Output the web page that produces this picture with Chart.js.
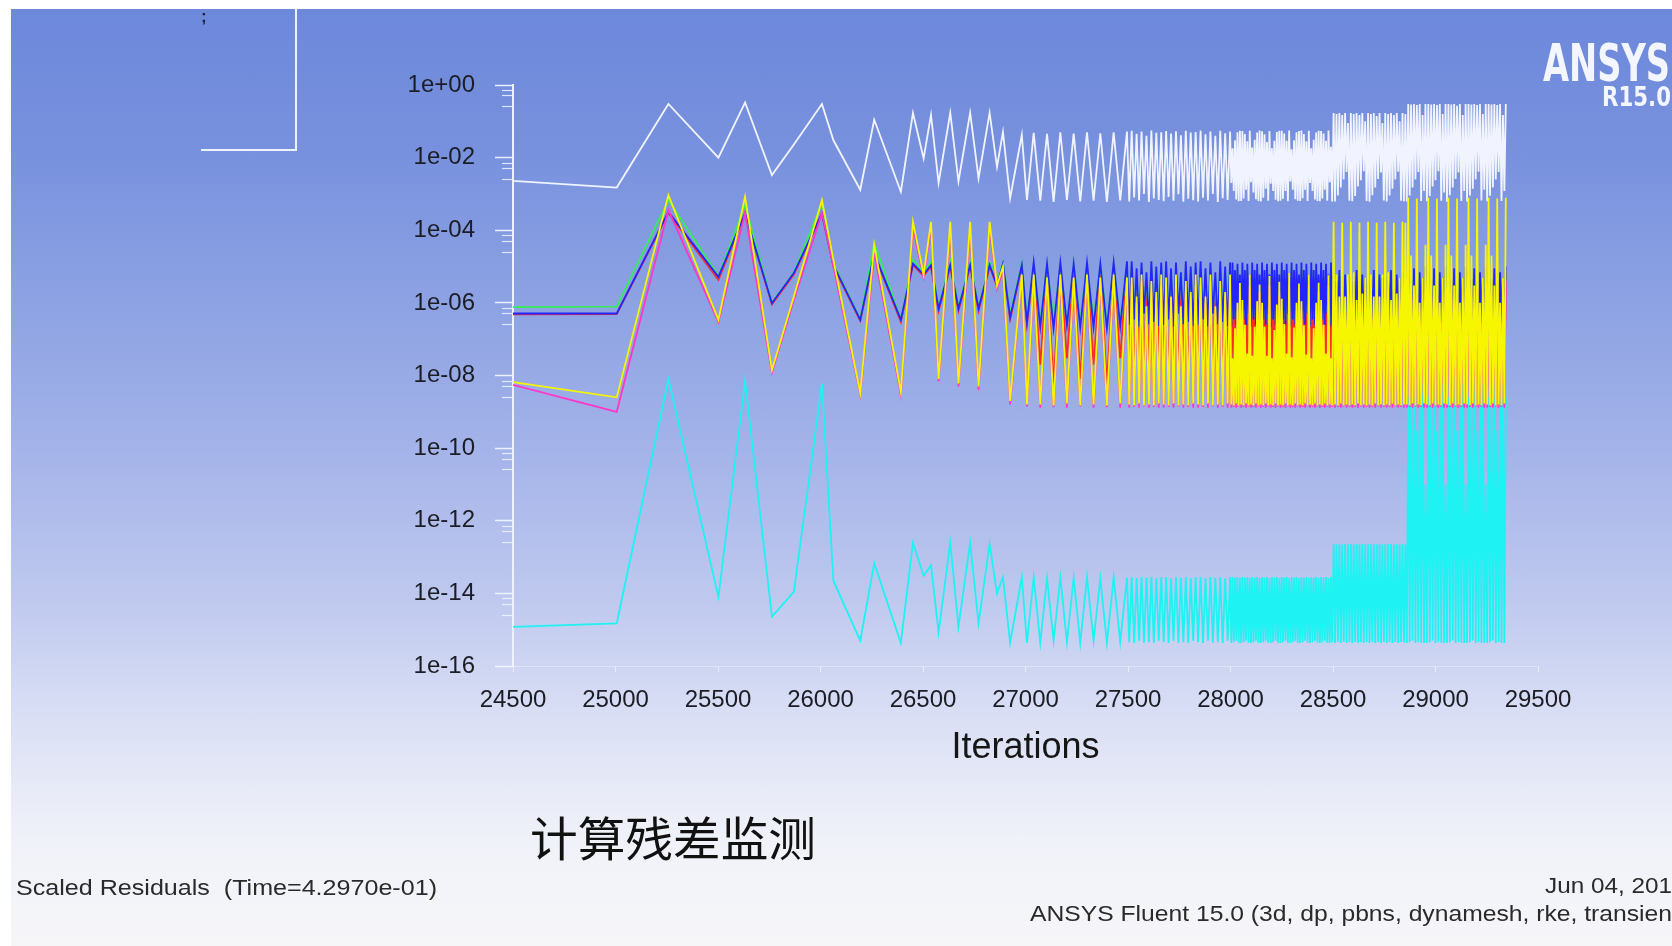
<!DOCTYPE html>
<html>
<head>
<meta charset="utf-8">
<title>Scaled Residuals</title>
<script src="https://cdn.jsdelivr.net/npm/chart.js@4.4.1/dist/chart.umd.min.js"></script>
<style>
  html, body { margin: 0; padding: 0; }
  body { width: 1672px; height: 946px; overflow: hidden; position: relative; background: #ffffff; }
  #backdrop {
    position: absolute; left: 0; top: 0; width: 1672px; height: 946px;
    background: linear-gradient(to bottom,
      #6c88db 0px, #7891de 150px, #8ca2e3 300px, #a4b3e9 450px,
      #bfc9ef 600px, #d6dcf4 700px, #e7eaf7 790px, #f0f2f9 840px, #f6f6f9 946px);
  }
  #residuals { position: absolute; left: 0; top: 0; }
  .frame { position: absolute; background: #ffffff; }
  .rule { position: absolute; background: #eef2ff; }
  .txt { position: absolute; white-space: nowrap; line-height: 1; transform-origin: 0 0; }
  .foot { font-family: 'Liberation Sans', Arial, sans-serif; font-size: 22px; color: #2a2a2a; }
  .logo { font-family: 'DejaVu Sans Condensed', 'Liberation Sans Narrow', sans-serif; font-weight: bold; color: #f3f5ff; }
</style>
</head>
<body>
<div id="backdrop"></div>
<canvas id="residuals" width="1672" height="946"></canvas>

<div class="frame" style="left:0;top:0;width:1672px;height:9px;"></div>
<div class="frame" style="left:0;top:0;width:11px;height:946px;"></div>

<!-- clipped legend box corner -->
<div class="rule" style="left:295px;top:9px;width:2px;height:142px;"></div>
<div class="rule" style="left:201px;top:149px;width:96px;height:2px;"></div>
<div class="txt" style="left:201px;top:7px;font:bold 17px 'Liberation Sans',sans-serif;color:#1d2136;">;</div>

<div id="logoMain" class="txt logo" style="left:1543px;top:38px;font-size:51px;">ANSYS</div>
<div id="logoRel" class="txt logo" style="left:1602px;top:83px;font-size:27px;font-weight:600;">R15.0</div>

<div id="caption" class="txt" style="left:530px;top:812px;font-family:'Noto Sans CJK SC',sans-serif;font-size:47px;color:#111111;">计算残差监测</div>
<div id="plotName" class="txt foot" style="left:16px;top:877px;">Scaled Residuals&nbsp;&nbsp;(Time=4.2970e-01)</div>
<div id="plotDate" class="txt foot" style="left:1545px;top:875px;">Jun 04, 2015</div>
<div id="plotSolver" class="txt foot" style="left:1030px;top:903px;">ANSYS Fluent 15.0 (3d, dp, pbns, dynamesh, rke, transient)</div>

<script>
// ---- residual history (iteration, scaled residual) ----
const iterations = [
  // 24500 - 27000
  24500, 25006, 25258, 25502, 25632, 25763, 25870, 26007, 26063, 26194, 26262, 26392, 26451,
  26503, 26539, 26576, 26633, 26673, 26730, 26771, 26825, 26861, 26890, 26925, 26982, 27007,
  // 27000 - 27500
  27040, 27072, 27105, 27137, 27170, 27202, 27235, 27267, 27300, 27332, 27365, 27397, 27430, 27462, 27495,
  // 27500 - 28000
  27506, 27518, 27530, 27542, 27554, 27566, 27578, 27590, 27602, 27614, 27626, 27638, 27650, 27662,
  27674, 27686, 27698, 27710, 27722, 27734, 27746, 27758, 27770, 27782, 27794, 27806, 27818, 27830,
  27842, 27854, 27866, 27878, 27890, 27902, 27914, 27926, 27938, 27950, 27962, 27974, 27986, 27998,
  // 28000 - 28500
  28004, 28010, 28016, 28022, 28028, 28034, 28040, 28046, 28052, 28058,
  28064, 28070, 28076, 28082, 28088, 28094, 28100, 28106, 28112, 28118,
  28124, 28130, 28136, 28142, 28148, 28154, 28160, 28166, 28172, 28178,
  28184, 28190, 28196, 28202, 28208, 28214, 28220, 28226, 28232, 28238,
  28244, 28250, 28256, 28262, 28268, 28274, 28280, 28286, 28292, 28298,
  28304, 28310, 28316, 28322, 28328, 28334, 28340, 28346, 28352, 28358,
  28364, 28370, 28376, 28382, 28388, 28394, 28400, 28406, 28412, 28418,
  28424, 28430, 28436, 28442, 28448, 28454, 28460, 28466, 28472, 28478,
  28484, 28490, 28496,
  // 28500 - 28860
  28503, 28510, 28517, 28524, 28531, 28538, 28545, 28552, 28559, 28566,
  28573, 28580, 28587, 28594, 28601, 28608, 28615, 28622, 28629, 28636,
  28643, 28650, 28657, 28664, 28671, 28678, 28685, 28692, 28699, 28706,
  28713, 28720, 28727, 28734, 28741, 28748, 28755, 28762, 28769, 28776,
  28783, 28790, 28797, 28804, 28811, 28818, 28825, 28832, 28839, 28846,
  28853,
  // 28860 - end
  28860, 28867, 28874, 28881, 28888, 28895, 28902, 28909, 28916, 28923,
  28930, 28937, 28944, 28951, 28958, 28965, 28972, 28979, 28986, 28993,
  29000, 29007, 29014, 29021, 29028, 29035, 29042, 29049, 29056, 29063,
  29070, 29077, 29084, 29091, 29098, 29105, 29112, 29119, 29126, 29133,
  29140, 29147, 29154, 29161, 29168, 29175, 29182, 29189, 29196, 29203,
  29210, 29217, 29224, 29231, 29238, 29245, 29252, 29259, 29266, 29273,
  29280, 29287, 29294, 29301, 29308, 29315, 29322, 29329, 29336, 29343
];

const continuity = [
  2.3e-3, 1.5e-3, 0.30, 1.0e-2, 0.33, 3.3e-3, 2.3e-2, 0.30, 3.0e-2, 1.3e-3, 0.11, 1.15e-3, 0.17,
  9.5e-3, 0.15, 2.0e-3, 0.17, 2.2e-3, 0.17, 2.7e-3, 0.17, 5.6e-3, 0.051, 7.6e-4, 0.042, 6.8e-4,
  0.048, 6.5e-4, 0.045, 6.0e-4, 0.050, 6.8e-4, 0.046, 6.2e-4, 0.050, 6.5e-4, 0.047, 6.0e-4, 0.050, 6.6e-4, 0.052,
  6.2e-4, 0.055, 8.0e-4, 0.045, 6.6e-4, 0.052, 1.0e-3, 0.040, 6.0e-4, 0.056, 7.5e-4, 0.048, 6.8e-4, 0.050,
  6.3e-4, 0.054, 8.2e-4, 0.046, 6.5e-4, 0.053, 9.8e-4, 0.041, 6.1e-4, 0.055, 7.4e-4, 0.049, 6.7e-4, 0.051,
  6.2e-4, 0.056, 7.9e-4, 0.044, 6.6e-4, 0.052, 1.0e-3, 0.040, 6.0e-4, 0.055, 7.6e-4, 0.047, 6.8e-4, 0.052,
  2.0e-3, 0.018, 1.2e-3, 0.030, 7.0e-4, 0.050, 6.3e-4, 0.055, 6.4e-4, 0.054, 7.5e-4, 0.045, 1.3e-3, 0.028, 6.4e-4, 0.055,
  2.1e-3, 0.019, 1.1e-3, 0.031, 7.2e-4, 0.049, 6.4e-4, 0.056, 6.2e-4, 0.053, 7.8e-4, 0.044, 1.4e-3, 0.027, 6.5e-4, 0.054,
  1.9e-3, 0.018, 1.2e-3, 0.029, 6.9e-4, 0.051, 6.3e-4, 0.055, 6.5e-4, 0.055, 7.4e-4, 0.046, 1.2e-3, 0.029, 6.3e-4, 0.056,
  2.2e-3, 0.017, 1.3e-3, 0.030, 7.1e-4, 0.050, 6.5e-4, 0.054, 6.4e-4, 0.056, 7.6e-4, 0.045, 1.3e-3, 0.028, 6.4e-4, 0.055,
  2.0e-3, 0.018, 1.2e-3, 0.031, 7.0e-4, 0.049, 6.4e-4, 0.055, 6.3e-4, 0.054, 7.5e-4, 0.046, 1.3e-3, 0.029, 6.5e-4, 0.056,
  2.1e-3, 0.020, 6.2e-4,
  0.17, 6.2e-4, 0.16, 9.0e-4, 0.17, 1.5e-3, 0.15, 2.5e-3, 0.17, 4.0e-3, 0.09, 6.5e-4,
  0.17, 6.3e-4, 0.16, 8.8e-4, 0.17, 1.6e-3, 0.15, 2.4e-3, 0.17, 4.2e-3, 0.10, 6.4e-4,
  0.17, 6.1e-4, 0.16, 9.2e-4, 0.17, 1.5e-3, 0.14, 2.6e-3, 0.17, 3.9e-3, 0.09, 6.6e-4,
  0.17, 6.2e-4, 0.16, 9.0e-4, 0.17, 1.4e-3, 0.15, 2.5e-3, 0.17, 4.1e-3, 0.10, 6.5e-4,
  0.17, 6.3e-4, 0.16,
  6.2e-4, 0.30, 9.0e-4, 0.29, 1.5e-3, 0.30, 2.5e-3, 0.28, 4.0e-3, 0.30, 6.4e-4, 0.15, 1.2e-3, 0.30,
  6.3e-4, 0.30, 8.8e-4, 0.29, 1.6e-3, 0.30, 2.4e-3, 0.28, 4.2e-3, 0.30, 6.5e-4, 0.16, 1.1e-3, 0.30,
  6.1e-4, 0.30, 9.2e-4, 0.29, 1.5e-3, 0.30, 2.6e-3, 0.27, 3.9e-3, 0.30, 6.4e-4, 0.15, 1.2e-3, 0.30,
  6.2e-4, 0.30, 9.0e-4, 0.29, 1.4e-3, 0.30, 2.5e-3, 0.28, 4.1e-3, 0.30, 6.6e-4, 0.16, 1.3e-3, 0.30,
  6.3e-4, 0.30, 8.9e-4, 0.29, 1.5e-3, 0.30, 2.5e-3, 0.28, 4.0e-3, 0.30, 6.4e-4, 0.15, 1.2e-3, 0.30
];

const xVelocity = [
  4.8e-7, 4.9e-7, 3.0e-4, 4.3e-6, 2.8e-4, 9.0e-7, 6.0e-6, 2.8e-4, 1.0e-5, 3.2e-7, 2.2e-5, 3.0e-7, 1.1e-5,
  5.5e-6, 1.0e-5, 6.0e-7, 1.0e-5, 6.0e-7, 1.0e-5, 6.0e-7, 1.0e-5, 2.8e-6, 1.1e-5, 3.5e-7, 1.0e-5, 2.5e-7,
  9e-6, 2e-8, 8e-6, 6e-9, 9e-6, 3e-8, 8e-6, 8e-9, 9e-6, 2e-8, 8e-6, 6e-9, 9e-6, 3e-8, 9.5e-6,
  1e-8, 9e-6, 4e-9, 5e-6, 2e-8, 8e-6, 5e-9, 4e-6, 1e-8, 9e-6, 4e-9, 6e-6, 2e-8, 8e-6,
  1e-8, 9e-6, 4e-9, 5e-6, 2e-8, 8e-6, 5e-9, 4e-6, 1e-8, 9e-6, 4e-9, 6e-6, 2e-8, 8e-6,
  1e-8, 9e-6, 4e-9, 5e-6, 2e-8, 8e-6, 5e-9, 4e-6, 1e-8, 9e-6, 4e-9, 6e-6, 2e-8, 8e-6,
  5e-9, 8e-6, 2e-8, 5e-6, 4e-9, 7e-6, 1e-8, 4e-6, 5e-9, 8e-6, 2e-8, 5e-6, 4e-9, 7e-6, 1e-8, 4e-6,
  5e-9, 8e-6, 2e-8, 5e-6, 4e-9, 7e-6, 1e-8, 4e-6, 5e-9, 8e-6, 2e-8, 5e-6, 4e-9, 7e-6, 1e-8, 4e-6,
  5e-9, 8e-6, 2e-8, 5e-6, 4e-9, 7e-6, 1e-8, 4e-6, 5e-9, 8e-6, 2e-8, 5e-6, 4e-9, 7e-6, 1e-8, 4e-6,
  5e-9, 8e-6, 2e-8, 5e-6, 4e-9, 7e-6, 1e-8, 4e-6, 5e-9, 8e-6, 2e-8, 5e-6, 4e-9, 7e-6, 1e-8, 4e-6,
  5e-9, 8e-6, 2e-8, 5e-6, 4e-9, 7e-6, 1e-8, 4e-6, 5e-9, 8e-6, 2e-8, 5e-6, 4e-9, 7e-6, 1e-8, 4e-6,
  5e-9, 8e-6, 2e-8,
  5e-6, 5e-9, 3e-6, 2e-8, 5.5e-6, 4e-9, 2e-6, 1e-8, 4.5e-6, 6e-9, 3.5e-6, 1.5e-8,
  5e-6, 5e-9, 3e-6, 2e-8, 5.5e-6, 4e-9, 2e-6, 1e-8, 4.5e-6, 6e-9, 3.5e-6, 1.5e-8,
  5e-6, 5e-9, 3e-6, 2e-8, 5.5e-6, 4e-9, 2e-6, 1e-8, 4.5e-6, 6e-9, 3.5e-6, 1.5e-8,
  5e-6, 5e-9, 3e-6, 2e-8, 5.5e-6, 4e-9, 2e-6, 1e-8, 4.5e-6, 6e-9, 3.5e-6, 1.5e-8,
  5e-6, 5e-9, 4e-6,
  5e-9, 6e-6, 2e-8, 3.5e-6, 4e-9, 6.5e-6, 1e-8, 2.5e-6, 6e-9, 5e-6, 1.5e-8, 4e-6, 5e-9, 7e-6,
  5e-9, 6e-6, 2e-8, 3.5e-6, 4e-9, 6.5e-6, 1e-8, 2.5e-6, 6e-9, 5e-6, 1.5e-8, 4e-6, 5e-9, 7e-6,
  5e-9, 6e-6, 2e-8, 3.5e-6, 4e-9, 6.5e-6, 1e-8, 2.5e-6, 6e-9, 5e-6, 1.5e-8, 4e-6, 5e-9, 7e-6,
  5e-9, 6e-6, 2e-8, 3.5e-6, 4e-9, 6.5e-6, 1e-8, 2.5e-6, 6e-9, 5e-6, 1.5e-8, 4e-6, 5e-9, 7e-6,
  5e-9, 6e-6, 2e-8, 3.5e-6, 4e-9, 6.5e-6, 1e-8, 2.5e-6, 6e-9, 5e-6, 1.5e-8, 4e-6, 5e-9, 7e-6
];

const yVelocity = [
  7.6e-7, 7.9e-7, 6.8e-4, 5.5e-6, 4.9e-4, 1.0e-6, 7.0e-6, 5.5e-4, 1.2e-5, 3.6e-7, 4.5e-5, 3.6e-7, 1.5e-5,
  7.0e-6, 1.3e-5, 8.0e-7, 1.3e-5, 8.0e-7, 1.3e-5, 8.0e-7, 1.3e-5, 4.0e-6, 1.3e-5, 5.0e-7, 1.2e-5, 4.0e-7,
  1.0e-5, 3.0e-7, 1.1e-5, 3.2e-7, 1.0e-5, 2.8e-7, 1.1e-5, 3.0e-7, 1.0e-5, 3.1e-7, 1.1e-5, 2.9e-7, 1.0e-5, 3.0e-7, 1.1e-5,
  3.0e-7, 1.0e-5, 4.0e-7, 7.0e-6, 3.2e-7, 9.5e-6, 5.0e-7, 6.0e-6, 2.9e-7, 1.0e-5, 3.5e-7, 8.0e-6, 3.1e-7, 9.8e-6,
  3.0e-7, 1.0e-5, 4.0e-7, 7.0e-6, 3.2e-7, 9.5e-6, 5.0e-7, 6.0e-6, 2.9e-7, 1.0e-5, 3.5e-7, 8.0e-6, 3.1e-7, 9.8e-6,
  3.0e-7, 1.0e-5, 4.0e-7, 7.0e-6, 3.2e-7, 9.5e-6, 5.0e-7, 6.0e-6, 2.9e-7, 1.0e-5, 3.5e-7, 8.0e-6, 3.1e-7, 9.8e-6,
  3.0e-7, 9.0e-6, 4.0e-7, 6.0e-6, 3.2e-7, 8.5e-6, 5.5e-7, 5.0e-6, 3.0e-7, 9.0e-6, 4.0e-7, 6.0e-6, 3.2e-7, 8.5e-6, 5.5e-7, 5.0e-6,
  3.0e-7, 9.0e-6, 4.0e-7, 6.0e-6, 3.2e-7, 8.5e-6, 5.5e-7, 5.0e-6, 3.0e-7, 9.0e-6, 4.0e-7, 6.0e-6, 3.2e-7, 8.5e-6, 5.5e-7, 5.0e-6,
  3.0e-7, 9.0e-6, 4.0e-7, 6.0e-6, 3.2e-7, 8.5e-6, 5.5e-7, 5.0e-6, 3.0e-7, 9.0e-6, 4.0e-7, 6.0e-6, 3.2e-7, 8.5e-6, 5.5e-7, 5.0e-6,
  3.0e-7, 9.0e-6, 4.0e-7, 6.0e-6, 3.2e-7, 8.5e-6, 5.5e-7, 5.0e-6, 3.0e-7, 9.0e-6, 4.0e-7, 6.0e-6, 3.2e-7, 8.5e-6, 5.5e-7, 5.0e-6,
  3.0e-7, 9.0e-6, 4.0e-7, 6.0e-6, 3.2e-7, 8.5e-6, 5.5e-7, 5.0e-6, 3.0e-7, 9.0e-6, 4.0e-7, 6.0e-6, 3.2e-7, 8.5e-6, 5.5e-7, 5.0e-6,
  3.0e-7, 9.0e-6, 3.1e-7,
  6.0e-6, 3.0e-7, 3.5e-6, 4.0e-7, 6.5e-6, 2.8e-7, 2.5e-6, 5.0e-7, 5.0e-6, 3.2e-7, 4.0e-6, 3.5e-7,
  6.0e-6, 3.0e-7, 3.5e-6, 4.0e-7, 6.5e-6, 2.8e-7, 2.5e-6, 5.0e-7, 5.0e-6, 3.2e-7, 4.0e-6, 3.5e-7,
  6.0e-6, 3.0e-7, 3.5e-6, 4.0e-7, 6.5e-6, 2.8e-7, 2.5e-6, 5.0e-7, 5.0e-6, 3.2e-7, 4.0e-6, 3.5e-7,
  6.0e-6, 3.0e-7, 3.5e-6, 4.0e-7, 6.5e-6, 2.8e-7, 2.5e-6, 5.0e-7, 5.0e-6, 3.2e-7, 4.0e-6, 3.5e-7,
  6.0e-6, 3.0e-7, 5.0e-6,
  3.0e-7, 7.0e-6, 4.0e-7, 4.0e-6, 2.8e-7, 7.5e-6, 5.0e-7, 2.5e-6, 3.2e-7, 6.0e-6, 3.5e-7, 4.5e-6, 3.0e-7, 8.0e-6,
  3.0e-7, 7.0e-6, 4.0e-7, 4.0e-6, 2.8e-7, 7.5e-6, 5.0e-7, 2.5e-6, 3.2e-7, 6.0e-6, 3.5e-7, 4.5e-6, 3.0e-7, 8.0e-6,
  3.0e-7, 7.0e-6, 4.0e-7, 4.0e-6, 2.8e-7, 7.5e-6, 5.0e-7, 2.5e-6, 3.2e-7, 6.0e-6, 3.5e-7, 4.5e-6, 3.0e-7, 8.0e-6,
  3.0e-7, 7.0e-6, 4.0e-7, 4.0e-6, 2.8e-7, 7.5e-6, 5.0e-7, 2.5e-6, 3.2e-7, 6.0e-6, 3.5e-7, 4.5e-6, 3.0e-7, 8.0e-6,
  3.0e-7, 7.0e-6, 4.0e-7, 4.0e-6, 2.8e-7, 7.5e-6, 5.0e-7, 2.5e-6, 3.2e-7, 6.0e-6, 3.5e-7, 4.5e-6, 3.0e-7, 8.0e-6
];

const zVelocity = [
  5.1e-7, 5.1e-7, 3.2e-4, 5.2e-6, 2.9e-4, 9.7e-7, 6.6e-6, 2.9e-4, 1.1e-5, 3.4e-7, 2.3e-5, 3.4e-7, 1.2e-5,
  6.0e-6, 1.1e-5, 7.0e-7, 1.1e-5, 7.0e-7, 1.1e-5, 7.0e-7, 1.1e-5, 3.0e-6, 1.2e-5, 4.0e-7, 1.1e-5, 3.0e-7,
  1.3e-5, 2.2e-7, 1.2e-5, 2.0e-7, 1.3e-5, 2.4e-7, 1.2e-5, 2.1e-7, 1.3e-5, 2.2e-7, 1.2e-5, 2.0e-7, 1.3e-5, 2.3e-7, 1.4e-5,
  2.5e-7, 1.4e-5, 3.5e-7, 9.0e-6, 2.2e-7, 1.3e-5, 5.0e-7, 7.0e-6, 2.6e-7, 1.4e-5, 3.0e-7, 1.0e-5, 2.3e-7, 1.3e-5,
  2.5e-7, 1.4e-5, 3.5e-7, 9.0e-6, 2.2e-7, 1.3e-5, 5.0e-7, 7.0e-6, 2.6e-7, 1.4e-5, 3.0e-7, 1.0e-5, 2.3e-7, 1.3e-5,
  2.5e-7, 1.4e-5, 3.5e-7, 9.0e-6, 2.2e-7, 1.3e-5, 5.0e-7, 7.0e-6, 2.6e-7, 1.4e-5, 3.0e-7, 1.0e-5, 2.3e-7, 1.3e-5,
  2.2e-7, 1.3e-5, 3.5e-7, 8.0e-6, 2.5e-7, 1.2e-5, 5.0e-7, 6.0e-6, 2.2e-7, 1.3e-5, 3.5e-7, 8.0e-6, 2.5e-7, 1.2e-5, 5.0e-7, 6.0e-6,
  2.2e-7, 1.3e-5, 3.5e-7, 8.0e-6, 2.5e-7, 1.2e-5, 5.0e-7, 6.0e-6, 2.2e-7, 1.3e-5, 3.5e-7, 8.0e-6, 2.5e-7, 1.2e-5, 5.0e-7, 6.0e-6,
  2.2e-7, 1.3e-5, 3.5e-7, 8.0e-6, 2.5e-7, 1.2e-5, 5.0e-7, 6.0e-6, 2.2e-7, 1.3e-5, 3.5e-7, 8.0e-6, 2.5e-7, 1.2e-5, 5.0e-7, 6.0e-6,
  2.2e-7, 1.3e-5, 3.5e-7, 8.0e-6, 2.5e-7, 1.2e-5, 5.0e-7, 6.0e-6, 2.2e-7, 1.3e-5, 3.5e-7, 8.0e-6, 2.5e-7, 1.2e-5, 5.0e-7, 6.0e-6,
  2.2e-7, 1.3e-5, 3.5e-7, 8.0e-6, 2.5e-7, 1.2e-5, 5.0e-7, 6.0e-6, 2.2e-7, 1.3e-5, 3.5e-7, 8.0e-6, 2.5e-7, 1.2e-5, 5.0e-7, 6.0e-6,
  2.2e-7, 1.3e-5, 2.4e-7,
  7.0e-6, 2.5e-7, 4.0e-6, 3.5e-7, 8.0e-6, 2.2e-7, 3.0e-6, 4.0e-7, 6.0e-6, 2.8e-7, 5.0e-6, 3.0e-7,
  7.0e-6, 2.5e-7, 4.0e-6, 3.5e-7, 8.0e-6, 2.2e-7, 3.0e-6, 4.0e-7, 6.0e-6, 2.8e-7, 5.0e-6, 3.0e-7,
  7.0e-6, 2.5e-7, 4.0e-6, 3.5e-7, 8.0e-6, 2.2e-7, 3.0e-6, 4.0e-7, 6.0e-6, 2.8e-7, 5.0e-6, 3.0e-7,
  7.0e-6, 2.5e-7, 4.0e-6, 3.5e-7, 8.0e-6, 2.2e-7, 3.0e-6, 4.0e-7, 6.0e-6, 2.8e-7, 5.0e-6, 3.0e-7,
  7.0e-6, 2.5e-7, 6.0e-6,
  2.5e-7, 8.0e-6, 3.5e-7, 4.5e-6, 2.2e-7, 9.0e-6, 4.0e-7, 3.0e-6, 2.8e-7, 7.0e-6, 3.0e-7, 5.0e-6, 2.4e-7, 1.0e-5,
  2.5e-7, 8.0e-6, 3.5e-7, 4.5e-6, 2.2e-7, 9.0e-6, 4.0e-7, 3.0e-6, 2.8e-7, 7.0e-6, 3.0e-7, 5.0e-6, 2.4e-7, 1.0e-5,
  2.5e-7, 8.0e-6, 3.5e-7, 4.5e-6, 2.2e-7, 9.0e-6, 4.0e-7, 3.0e-6, 2.8e-7, 7.0e-6, 3.0e-7, 5.0e-6, 2.4e-7, 1.0e-5,
  2.5e-7, 8.0e-6, 3.5e-7, 4.5e-6, 2.2e-7, 9.0e-6, 4.0e-7, 3.0e-6, 2.8e-7, 7.0e-6, 3.0e-7, 5.0e-6, 2.4e-7, 1.0e-5,
  2.5e-7, 8.0e-6, 3.5e-7, 4.5e-6, 2.2e-7, 9.0e-6, 4.0e-7, 3.0e-6, 2.8e-7, 7.0e-6, 3.0e-7, 5.0e-6, 2.4e-7, 1.0e-5
];

const energy = [
  1.2e-15, 1.5e-15, 8.0e-9, 7.9e-15, 7.0e-9, 2.3e-15, 1.1e-14, 6.0e-9, 2.2e-14, 5.0e-16, 6.8e-14, 4.3e-16, 2.5e-13,
  3.0e-14, 6.0e-14, 8.5e-16, 2.5e-13, 1.2e-15, 2.5e-13, 1.5e-15, 2.3e-13, 1.0e-14, 2.8e-14, 4.3e-16, 2.8e-14, 4.3e-16,
  2.8e-14, 4.3e-16, 2.6e-14, 5.0e-16, 2.8e-14, 4.5e-16, 2.7e-14, 4.3e-16, 2.8e-14, 5.0e-16, 2.6e-14, 4.3e-16, 2.8e-14, 4.6e-16, 2.7e-14,
  4.5e-16, 2.8e-14, 4.3e-16, 2.6e-14, 5.0e-16, 2.8e-14, 4.4e-16, 2.7e-14, 4.5e-16, 2.8e-14, 4.3e-16, 2.6e-14, 5.0e-16, 2.8e-14,
  4.5e-16, 2.8e-14, 4.3e-16, 2.6e-14, 5.0e-16, 2.8e-14, 4.4e-16, 2.7e-14, 4.5e-16, 2.8e-14, 4.3e-16, 2.6e-14, 5.0e-16, 2.8e-14,
  4.5e-16, 2.8e-14, 4.3e-16, 2.6e-14, 5.0e-16, 2.8e-14, 4.4e-16, 2.7e-14, 4.5e-16, 2.8e-14, 4.3e-16, 2.6e-14, 5.0e-16, 2.8e-14,
  4.3e-16, 2.8e-14, 4.5e-16, 2.7e-14, 5.0e-16, 2.8e-14, 4.4e-16, 2.6e-14, 4.3e-16, 2.8e-14, 4.5e-16, 2.7e-14, 5.0e-16, 2.8e-14, 4.4e-16, 2.6e-14,
  4.3e-16, 2.8e-14, 4.5e-16, 2.7e-14, 5.0e-16, 2.8e-14, 4.4e-16, 2.6e-14, 4.3e-16, 2.8e-14, 4.5e-16, 2.7e-14, 5.0e-16, 2.8e-14, 4.4e-16, 2.6e-14,
  4.3e-16, 2.8e-14, 4.5e-16, 2.7e-14, 5.0e-16, 2.8e-14, 4.4e-16, 2.6e-14, 4.3e-16, 2.8e-14, 4.5e-16, 2.7e-14, 5.0e-16, 2.8e-14, 4.4e-16, 2.6e-14,
  4.3e-16, 2.8e-14, 4.5e-16, 2.7e-14, 5.0e-16, 2.8e-14, 4.4e-16, 2.6e-14, 4.3e-16, 2.8e-14, 4.5e-16, 2.7e-14, 5.0e-16, 2.8e-14, 4.4e-16, 2.6e-14,
  4.3e-16, 2.8e-14, 4.5e-16, 2.7e-14, 5.0e-16, 2.8e-14, 4.4e-16, 2.6e-14, 4.3e-16, 2.8e-14, 4.5e-16, 2.7e-14, 5.0e-16, 2.8e-14, 4.4e-16, 2.6e-14,
  4.3e-16, 2.8e-14, 4.5e-16,
  2.3e-13, 4.3e-16, 2.2e-13, 4.6e-16, 2.3e-13, 4.3e-16, 2.2e-13, 4.6e-16, 2.3e-13, 4.3e-16, 2.2e-13, 4.6e-16,
  2.3e-13, 4.3e-16, 2.2e-13, 4.6e-16, 2.3e-13, 4.3e-16, 2.2e-13, 4.6e-16, 2.3e-13, 4.3e-16, 2.2e-13, 4.6e-16,
  2.3e-13, 4.3e-16, 2.2e-13, 4.6e-16, 2.3e-13, 4.3e-16, 2.2e-13, 4.6e-16, 2.3e-13, 4.3e-16, 2.2e-13, 4.6e-16,
  2.3e-13, 4.3e-16, 2.2e-13, 4.6e-16, 2.3e-13, 4.3e-16, 2.2e-13, 4.6e-16, 2.3e-13, 4.3e-16, 2.2e-13, 4.6e-16,
  2.3e-13, 4.4e-16, 2.2e-13,
  4.3e-16, 2.5e-9, 4.5e-16, 2.4e-9, 5.0e-16, 8.0e-9, 4.3e-16, 3.0e-10, 4.6e-16, 2.5e-9, 4.4e-16, 6.0e-9, 4.3e-16, 1.0e-11,
  4.3e-16, 2.5e-9, 4.5e-16, 2.4e-9, 5.0e-16, 8.0e-9, 4.3e-16, 3.0e-10, 4.6e-16, 2.5e-9, 4.4e-16, 6.0e-9, 4.3e-16, 1.0e-11,
  4.3e-16, 2.5e-9, 4.5e-16, 2.4e-9, 5.0e-16, 8.0e-9, 4.3e-16, 3.0e-10, 4.6e-16, 2.5e-9, 4.4e-16, 6.0e-9, 4.3e-16, 1.0e-11,
  4.3e-16, 2.5e-9, 4.5e-16, 2.4e-9, 5.0e-16, 8.0e-9, 4.3e-16, 3.0e-10, 4.6e-16, 2.5e-9, 4.4e-16, 6.0e-9, 4.3e-16, 1.0e-11,
  4.3e-16, 2.5e-9, 4.5e-16, 2.4e-9, 5.0e-16, 8.0e-9, 4.3e-16, 3.0e-10, 4.6e-16, 2.5e-9, 4.4e-16, 6.0e-9, 4.3e-16, 2.5e-9
];

const kRes = [
  5.5e-9, 1.0e-9, 3.6e-4, 3.0e-7, 3.0e-4, 1.2e-8, 1.2e-6, 3.0e-4, 1.0e-5, 3.0e-9, 2.5e-5, 3.0e-9, 1.2e-4,
  5.0e-6, 1.2e-4, 7.0e-9, 1.2e-4, 5.0e-9, 1.2e-4, 4.0e-9, 1.2e-4, 2.5e-6, 8.0e-6, 1.6e-9, 5.0e-6, 1.4e-9,
  4.0e-6, 1.3e-9, 3.5e-6, 1.35e-9, 4.0e-6, 1.3e-9, 3.5e-6, 1.4e-9, 4.0e-6, 1.3e-9, 3.5e-6, 1.35e-9, 4.0e-6, 1.3e-9, 3.5e-6,
  1.3e-9, 3.0e-6, 1.35e-9, 1.0e-6, 1.3e-9, 4.0e-6, 1.4e-9, 5.0e-7, 1.3e-9, 2.0e-6, 1.35e-9, 1.5e-6, 1.3e-9, 3.0e-6,
  1.3e-9, 3.0e-6, 1.35e-9, 1.0e-6, 1.3e-9, 4.0e-6, 1.4e-9, 5.0e-7, 1.3e-9, 2.0e-6, 1.35e-9, 1.5e-6, 1.3e-9, 3.0e-6,
  1.3e-9, 3.0e-6, 1.35e-9, 1.0e-6, 1.3e-9, 4.0e-6, 1.4e-9, 5.0e-7, 1.3e-9, 2.0e-6, 1.35e-9, 1.5e-6, 1.3e-9, 3.0e-6,
  1.3e-9, 1.5e-8, 1.35e-9, 1.0e-7, 1.3e-9, 6.0e-7, 1.4e-9, 2.0e-6, 1.3e-9, 6.0e-7, 1.35e-9, 1.0e-7, 1.3e-9, 1.5e-8, 1.4e-9, 3.0e-6,
  1.3e-9, 1.5e-8, 1.35e-9, 1.0e-7, 1.3e-9, 6.0e-7, 1.4e-9, 2.0e-6, 1.3e-9, 6.0e-7, 1.35e-9, 1.0e-7, 1.3e-9, 1.5e-8, 1.4e-9, 3.0e-6,
  1.3e-9, 1.5e-8, 1.35e-9, 1.0e-7, 1.3e-9, 6.0e-7, 1.4e-9, 2.0e-6, 1.3e-9, 6.0e-7, 1.35e-9, 1.0e-7, 1.3e-9, 1.5e-8, 1.4e-9, 3.0e-6,
  1.3e-9, 1.5e-8, 1.35e-9, 1.0e-7, 1.3e-9, 6.0e-7, 1.4e-9, 2.0e-6, 1.3e-9, 6.0e-7, 1.35e-9, 1.0e-7, 1.3e-9, 1.5e-8, 1.4e-9, 3.0e-6,
  1.3e-9, 1.5e-8, 1.35e-9, 1.0e-7, 1.3e-9, 6.0e-7, 1.4e-9, 2.0e-6, 1.3e-9, 6.0e-7, 1.35e-9, 1.0e-7, 1.3e-9, 1.5e-8, 1.4e-9, 3.0e-6,
  1.3e-9, 1.5e-8, 1.35e-9,
  3.0e-6, 1.3e-9, 1.0e-6, 1.35e-9, 3.0e-7, 1.3e-9, 1.0e-7, 1.4e-9, 3.0e-7, 1.3e-9, 1.0e-6, 1.35e-9,
  3.0e-6, 1.3e-9, 1.0e-6, 1.35e-9, 3.0e-7, 1.3e-9, 1.0e-7, 1.4e-9, 3.0e-7, 1.3e-9, 1.0e-6, 1.35e-9,
  3.0e-6, 1.3e-9, 1.0e-6, 1.35e-9, 3.0e-7, 1.3e-9, 1.0e-7, 1.4e-9, 3.0e-7, 1.3e-9, 1.0e-6, 1.35e-9,
  3.0e-6, 1.3e-9, 1.0e-6, 1.35e-9, 3.0e-7, 1.3e-9, 1.0e-7, 1.4e-9, 3.0e-7, 1.3e-9, 1.0e-6, 1.35e-9,
  3.0e-6, 1.3e-9, 2.5e-6,
  1.3e-9, 4.0e-6, 1.35e-9, 1.5e-6, 1.3e-9, 5.0e-7, 1.4e-9, 3.0e-6, 1.3e-9, 2.0e-7, 1.35e-9, 8.0e-7, 1.3e-9, 2.0e-6,
  1.3e-9, 4.0e-6, 1.35e-9, 1.5e-6, 1.3e-9, 5.0e-7, 1.4e-9, 3.0e-6, 1.3e-9, 2.0e-7, 1.35e-9, 8.0e-7, 1.3e-9, 2.0e-6,
  1.3e-9, 4.0e-6, 1.35e-9, 1.5e-6, 1.3e-9, 5.0e-7, 1.4e-9, 3.0e-6, 1.3e-9, 2.0e-7, 1.35e-9, 8.0e-7, 1.3e-9, 2.0e-6,
  1.3e-9, 4.0e-6, 1.35e-9, 1.5e-6, 1.3e-9, 5.0e-7, 1.4e-9, 3.0e-6, 1.3e-9, 2.0e-7, 1.35e-9, 8.0e-7, 1.3e-9, 2.0e-6,
  1.3e-9, 4.0e-6, 1.35e-9, 1.5e-6, 1.3e-9, 5.0e-7, 1.4e-9, 3.0e-6, 1.3e-9, 2.0e-7, 1.35e-9, 8.0e-7, 1.3e-9, 4.0e-6
];

const epsilon = [
  6.6e-9, 2.5e-9, 9.3e-4, 3.4e-7, 8.4e-4, 1.4e-8, 1.5e-6, 6.8e-4, 1.5e-5, 3.3e-9, 4.0e-5, 3.5e-9, 1.7e-4,
  6.0e-6, 1.7e-4, 8.0e-9, 1.7e-4, 6.0e-9, 1.7e-4, 5.0e-9, 1.7e-4, 3.0e-6, 1.0e-5, 2.0e-9, 6.0e-6, 1.6e-9,
  6.0e-6, 1.6e-9, 5.0e-6, 1.5e-9, 6.0e-6, 1.7e-9, 5.0e-6, 1.5e-9, 6.0e-6, 1.6e-9, 5.0e-6, 1.5e-9, 6.0e-6, 1.7e-9, 5.0e-6,
  1.6e-9, 5.0e-6, 1.5e-9, 1.5e-6, 1.7e-9, 6.0e-6, 1.5e-9, 8.0e-7, 1.6e-9, 4.0e-6, 1.5e-9, 2.0e-6, 1.7e-9, 6.0e-6,
  1.6e-9, 5.0e-6, 1.5e-9, 1.5e-6, 1.7e-9, 6.0e-6, 1.5e-9, 8.0e-7, 1.6e-9, 4.0e-6, 1.5e-9, 2.0e-6, 1.7e-9, 6.0e-6,
  1.6e-9, 5.0e-6, 1.5e-9, 1.5e-6, 1.7e-9, 6.0e-6, 1.5e-9, 8.0e-7, 1.6e-9, 4.0e-6, 1.5e-9, 2.0e-6, 1.7e-9, 6.0e-6,
  1.6e-9, 3.0e-8, 1.5e-9, 2.0e-7, 1.7e-9, 1.0e-6, 1.5e-9, 3.5e-6, 1.6e-9, 1.2e-6, 1.5e-9, 2.5e-7, 1.7e-9, 4.0e-8, 1.5e-9, 6.0e-6,
  1.6e-9, 3.5e-8, 1.5e-9, 2.2e-7, 1.7e-9, 1.1e-6, 1.5e-9, 3.2e-6, 1.6e-9, 1.0e-6, 1.5e-9, 2.2e-7, 1.7e-9, 3.5e-8, 1.5e-9, 5.5e-6,
  1.6e-9, 3.0e-8, 1.5e-9, 1.8e-7, 1.7e-9, 9.0e-7, 1.5e-9, 3.8e-6, 1.6e-9, 1.3e-6, 1.5e-9, 2.6e-7, 1.7e-9, 4.0e-8, 1.5e-9, 6.5e-6,
  1.6e-9, 3.2e-8, 1.5e-9, 2.1e-7, 1.7e-9, 1.0e-6, 1.5e-9, 3.4e-6, 1.6e-9, 1.1e-6, 1.5e-9, 2.4e-7, 1.7e-9, 3.8e-8, 1.5e-9, 6.0e-6,
  1.6e-9, 3.0e-8, 1.5e-9, 2.0e-7, 1.7e-9, 1.0e-6, 1.5e-9, 3.6e-6, 1.6e-9, 1.2e-6, 1.5e-9, 2.5e-7, 1.7e-9, 4.0e-8, 1.5e-9, 5.8e-6,
  1.6e-9, 3.0e-8, 1.5e-9,
  1.7e-4, 1.6e-9, 6.0e-6, 1.5e-9, 1.5e-6, 1.7e-9, 1.6e-4, 1.5e-9, 1.5e-6, 1.6e-9, 6.0e-6, 1.5e-9,
  1.7e-4, 1.6e-9, 7.0e-6, 1.5e-9, 1.2e-6, 1.7e-9, 1.6e-4, 1.5e-9, 1.8e-6, 1.6e-9, 5.0e-6, 1.5e-9,
  1.7e-4, 1.6e-9, 6.0e-6, 1.5e-9, 1.5e-6, 1.7e-9, 1.6e-4, 1.5e-9, 1.5e-6, 1.6e-9, 6.0e-6, 1.5e-9,
  1.7e-4, 1.6e-9, 7.0e-6, 1.5e-9, 1.2e-6, 1.7e-9, 1.6e-4, 1.5e-9, 1.8e-6, 1.6e-9, 5.0e-6, 1.5e-9,
  1.7e-4, 1.6e-9, 1.6e-4,
  1.6e-9, 7.8e-4, 1.5e-9, 2.0e-5, 1.7e-9, 3.0e-6, 1.5e-9, 7.5e-4, 1.6e-9, 1.0e-6, 1.5e-9, 5.0e-6, 1.7e-9, 4.0e-5,
  1.6e-9, 7.8e-4, 1.5e-9, 2.0e-5, 1.7e-9, 3.0e-6, 1.5e-9, 7.5e-4, 1.6e-9, 1.0e-6, 1.5e-9, 5.0e-6, 1.7e-9, 4.0e-5,
  1.6e-9, 7.8e-4, 1.5e-9, 2.0e-5, 1.7e-9, 3.0e-6, 1.5e-9, 7.5e-4, 1.6e-9, 1.0e-6, 1.5e-9, 5.0e-6, 1.7e-9, 4.0e-5,
  1.6e-9, 7.8e-4, 1.5e-9, 2.0e-5, 1.7e-9, 3.0e-6, 1.5e-9, 7.5e-4, 1.6e-9, 1.0e-6, 1.5e-9, 5.0e-6, 1.7e-9, 4.0e-5,
  1.6e-9, 7.8e-4, 1.5e-9, 2.0e-5, 1.7e-9, 3.0e-6, 1.5e-9, 7.5e-4, 1.6e-9, 1.0e-6, 1.5e-9, 5.0e-6, 1.7e-9, 7.8e-4
];

// ---- axis ticks ----
const xTickValues = [24500, 25000, 25500, 26000, 26500, 27000, 27500, 28000, 28500, 29000, 29500];
const yTickValues = [1e0, 1e-2, 1e-4, 1e-6, 1e-8, 1e-10, 1e-12, 1e-14, 1e-16];
const yTickLabels = ['1e+00', '1e-02', '1e-04', '1e-06', '1e-08', '1e-10', '1e-12', '1e-14', '1e-16'];
const yMinorFactors = [0.7, 0.5, 0.25];

const series = [
  { label: 'continuity', values: continuity, color: 'rgba(246,248,255,0.96)', order: 7 },
  { label: 'x-velocity', values: xVelocity,  color: '#ff2b2b', order: 6 },
  { label: 'y-velocity', values: yVelocity,  color: '#36ec5c', order: 5 },
  { label: 'z-velocity', values: zVelocity,  color: '#2424ff', order: 4 },
  { label: 'energy',     values: energy,     color: '#1ef2f2', order: 3 },
  { label: 'k',          values: kRes,       color: '#ff36c8', order: 2 },
  { label: 'epsilon',    values: epsilon,    color: '#f6f600', order: 1 }
];

series.forEach(s => {
  if (s.values.length !== iterations.length) {
    throw new Error(s.label + ' has ' + s.values.length + ' values, expected ' + iterations.length);
  }
});

const datasets = series.map(s => ({
  label: s.label,
  data: iterations.map((it, i) => ({ x: it, y: s.values[i] })),
  borderColor: s.color,
  backgroundColor: s.color,
  borderWidth: 1.8,
  pointRadius: 0,
  tension: 0,
  fill: false,
  order: s.order,
  xAxisID: 'x',
  yAxisID: 'y'
}));

const yMinorValues = [];
yTickValues.slice(0, -1).forEach(m => yMinorFactors.forEach(f => yMinorValues.push(m * f)));

Chart.defaults.font.family = "'Liberation Sans', Arial, sans-serif";

new Chart(document.getElementById('residuals'), {
  type: 'line',
  data: { datasets },
  options: {
    responsive: false,
    maintainAspectRatio: false,
    animation: false,
    devicePixelRatio: 1,
    parsing: false,
    normalized: true,
    layout: { padding: { left: 0, top: 85, right: 134, bottom: 176.4 } },
    plugins: { legend: { display: false }, tooltip: { enabled: false } },
    scales: {
      x: {
        type: 'linear',
        position: 'bottom',
        min: 24500,
        max: 29500,
        afterBuildTicks: s => { s.ticks = xTickValues.map(v => ({ value: v })); },
        afterFit: s => { s.height = 103.6; },
        ticks: {
          autoSkip: false, maxRotation: 0, padding: 14,
          color: '#1c1c24', font: { size: 24 },
          callback: v => String(v)
        },
        grid: { display: true, drawOnChartArea: false, tickLength: 6, tickColor: 'rgba(255,255,255,0.55)', tickWidth: 1 },
        border: { display: true, color: 'rgba(255,255,255,0.35)', width: 1 },
        title: { display: true, text: 'Iterations', color: '#161616', font: { size: 36 }, padding: { top: 0, bottom: 0 } }
      },
      y: {
        type: 'logarithmic',
        position: 'left',
        weight: 1,
        min: 1e-16,
        max: 1,
        afterBuildTicks: s => { s.ticks = yTickValues.map(v => ({ value: v })); },
        afterFit: s => { s.width = 513; },
        ticks: {
          padding: 20, color: '#1c1c24', font: { size: 24 },
          callback: (v, i) => yTickLabels[i]
        },
        grid: { display: true, drawOnChartArea: false, tickLength: 18, tickColor: 'rgba(240,244,255,0.95)', tickWidth: 1.5 },
        border: { display: true, color: '#eef2ff', width: 2 }
      },
      yMinor: {
        type: 'logarithmic',
        position: 'left',
        weight: 0,
        min: 1e-16,
        max: 1,
        afterBuildTicks: s => { s.ticks = yMinorValues.map(v => ({ value: v })); },
        afterFit: s => { s.width = 0; },
        ticks: { display: false },
        grid: { display: true, drawOnChartArea: false, tickLength: 11, tickColor: 'rgba(240,244,255,0.85)', tickWidth: 1.2 },
        border: { display: false }
      }
    }
  }
});

// stretch overlay texts to the widths they occupy in the exported plot window
function fitVisible(id, visibleText, targetWidth) {
  const el = document.getElementById(id);
  const cs = getComputedStyle(el);
  const ctx = document.createElement('canvas').getContext('2d');
  ctx.font = cs.fontWeight + ' ' + cs.fontSize + ' ' + cs.fontFamily;
  const w = ctx.measureText(visibleText).width;
  el.style.transform = 'scaleX(' + (targetWidth / w).toFixed(4) + ')';
}
fitVisible('logoMain', 'ANSYS', 127);
fitVisible('logoRel', 'R15.0', 69);
fitVisible('caption', '计算残差监测', 286);
fitVisible('plotName', 'Scaled Residuals  (Time=4.2970e-01)', 421);
fitVisible('plotDate', 'Jun 04, 201', 127);
fitVisible('plotSolver', 'ANSYS Fluent 15.0 (3d, dp, pbns, dynamesh, rke, transien', 642);
</script>
</body>
</html>
